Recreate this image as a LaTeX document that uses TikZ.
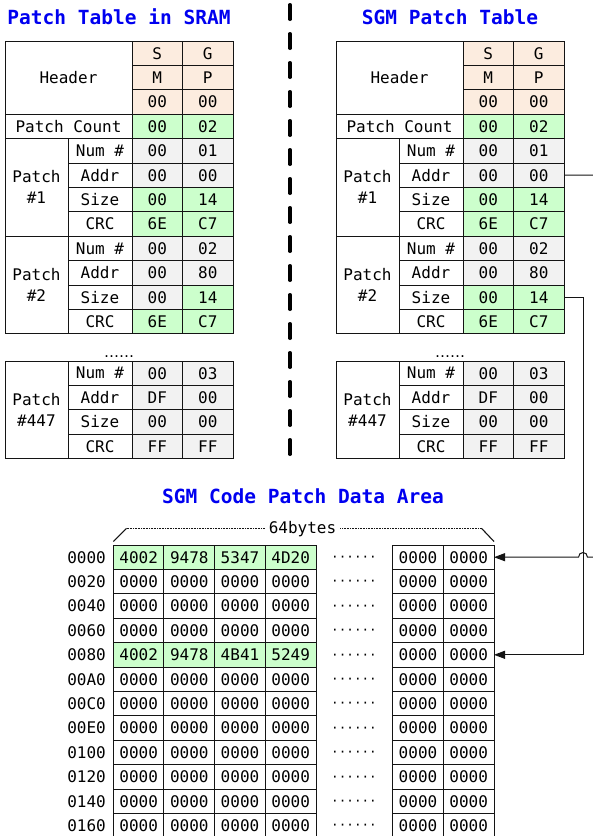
\documentclass[tikz,border=0pt]{standalone}
\usepackage{fontspec}
\setmonofont{DejaVu Sans Mono}
\newfontfamily\dvsans{DejaVu Sans}
\usetikzlibrary{arrows.meta}
\definecolor{peach}{HTML}{FCECDF}
\definecolor{cgreen}{HTML}{CCFFCC}
\definecolor{cgray}{HTML}{F2F2F2}
\definecolor{tblue}{HTML}{0000F0}
\definecolor{bord}{HTML}{141414}
\tikzset{
  cellsty/.style={draw=bord, line width=1pt, inner sep=0pt, outer sep=0pt,
    font=\ttfamily\fontsize{16}{21}\selectfont, align=center, text=black},
  titlesty/.style={font=\ttfamily\bfseries\fontsize{19.5}{22}\selectfont, text=tblue, anchor=base, inner sep=0pt},
  addrsty/.style={font=\ttfamily\fontsize{16}{19}\selectfont, anchor=east, inner sep=0pt},
  dotsty/.style={font=\dvsans\fontsize{15}{17}\selectfont, anchor=base, inner sep=0pt},
  mdotsty/.style={font=\ttfamily\fontsize{12.6}{14}\selectfont, anchor=base, inner sep=0pt},
  labsty/.style={font=\ttfamily\fontsize{16}{19}\selectfont, inner xsep=4pt, inner ysep=0pt},
  conn/.style={draw=bord, line width=1pt},
  arr/.style={conn, -{Triangle[length=11pt,width=8pt]}},
  sepline/.style={line width=3.4pt, line cap=round, dash pattern=on 14.6pt off 14.4pt},
  bracedot/.style={draw=bord, line width=0.9pt, dash pattern=on 0.8pt off 0.8pt},
  bracesolid/.style={draw=bord, line width=1.1pt}
}
\newcommand\cellbox[7]{\node[cellsty,fill=#2,minimum width=#5pt,minimum height=#6pt] (#1) at (#3,#4) {#7};}
\newcommand\prow[7]{%
  \cellbox{#1-l}{white}{100}{#2}{64}{24.4}{#3}%
  \cellbox{#1-a}{#4}{157.25}{#2}{50.5}{24.4}{#5}%
  \cellbox{#1-b}{#6}{207.75}{#2}{50.5}{24.4}{#7}}
\newcommand\patchtable[4]{%
\begin{scope}[xshift=#2pt]
\node[titlesty] (#1-title) at (119,24) {#4};
\cellbox{#1-hd}{white}{68.5}{77.6}{127}{73.2}{Header}
\cellbox{#1-h1a}{peach}{157.25}{53.2}{50.5}{24.4}{S}
\cellbox{#1-h1b}{peach}{207.75}{53.2}{50.5}{24.4}{G}
\cellbox{#1-h2a}{peach}{157.25}{77.6}{50.5}{24.4}{M}
\cellbox{#1-h2b}{peach}{207.75}{77.6}{50.5}{24.4}{P}
\cellbox{#1-h3a}{peach}{157.25}{102}{50.5}{24.4}{00}
\cellbox{#1-h3b}{peach}{207.75}{102}{50.5}{24.4}{00}
\cellbox{#1-pc}{white}{68.5}{126.4}{127}{24.4}{Patch Count}
\cellbox{#1-pca}{cgreen}{157.25}{126.4}{50.5}{24.4}{00}
\cellbox{#1-pcb}{cgreen}{207.75}{126.4}{50.5}{24.4}{02}
\cellbox{#1-p1}{white}{36.5}{187.4}{63}{97.6}{Patch\\\#1}
\prow{#1-p1num}{150.8}{Num \#}{cgray}{00}{cgray}{01}
\prow{#1-p1addr}{175.2}{Addr}{cgray}{00}{cgray}{00}
\prow{#1-p1size}{199.6}{Size}{cgreen}{00}{cgreen}{14}
\prow{#1-p1crc}{224}{CRC}{cgreen}{6E}{cgreen}{C7}
\cellbox{#1-p2}{white}{36.5}{285}{63}{97.6}{Patch\\\#2}
\prow{#1-p2num}{248.4}{Num \#}{cgray}{00}{cgray}{02}
\prow{#1-p2addr}{272.8}{Addr}{cgray}{00}{cgray}{80}
\prow{#1-p2size}{297.2}{Size}{#3}{00}{cgreen}{14}
\prow{#1-p2crc}{321.6}{CRC}{cgreen}{6E}{cgreen}{C7}
\node[dotsty] (#1-dots) at (119,357) {……};
\cellbox{#1-p4}{white}{36.5}{409.8}{63}{97.6}{Patch\\\#447}
\prow{#1-p4num}{373.2}{Num \#}{cgray}{00}{cgray}{03}
\prow{#1-p4addr}{397.6}{Addr}{cgray}{DF}{cgray}{00}
\prow{#1-p4size}{422}{Size}{cgray}{00}{cgray}{00}
\prow{#1-p4crc}{446.4}{CRC}{cgray}{FF}{cgray}{FF}
\end{scope}}
\begin{document}
\begin{tikzpicture}[x=1pt,y=-1pt]
\useasboundingbox (0,0) rectangle (593,836);
\fill[white] (0,0) rectangle (593,836);

% separator
\coordinate (sepT) at (290,4.7);
\coordinate (sepB) at (290,454.3);
\draw[sepline] (sepT) -- (sepB);

\patchtable{L}{0}{cgray}{Patch Table in SRAM}
\patchtable{R}{331}{cgreen}{SGM Patch Table}

% data area
\node[titlesty] (dtitle) at (303,503) {SGM Code Patch Data Area};
\foreach \ad/\va/\vb/\vc/\vd/\f [count=\r from 0] in {
  0000/4002/9478/5347/4D20/cgreen,
  0020/0000/0000/0000/0000/white,
  0040/0000/0000/0000/0000/white,
  0060/0000/0000/0000/0000/white,
  0080/4002/9478/4B41/5249/cgreen,
  00A0/0000/0000/0000/0000/white,
  00C0/0000/0000/0000/0000/white,
  00E0/0000/0000/0000/0000/white,
  0100/0000/0000/0000/0000/white,
  0120/0000/0000/0000/0000/white,
  0140/0000/0000/0000/0000/white,
  0160/0000/0000/0000/0000/white}{
  \pgfmathsetmacro\cy{557.2+24.4*\r}
  \pgfmathsetmacro\dy{\cy+4.2}
  \node[addrsty] (a-\r) at (106,\cy) {\ad};
  \cellbox{d-\r-1}{\f}{138.67}{\cy}{50.67}{24.4}{\va}
  \cellbox{d-\r-2}{\f}{189.33}{\cy}{50.67}{24.4}{\vb}
  \cellbox{d-\r-3}{\f}{240}{\cy}{50.67}{24.4}{\vc}
  \cellbox{d-\r-4}{\f}{290.67}{\cy}{50.67}{24.4}{\vd}
  \node[mdotsty] (m-\r) at (354,\dy) {······};
  \cellbox{d-\r-5}{white}{418}{\cy}{50.67}{24.4}{0000}
  \cellbox{d-\r-6}{white}{468.67}{\cy}{50.67}{24.4}{0000}
}

% 64bytes brace
\node[labsty] (lab64) at (302.5,529) {64bytes};
\coordinate (bL0) at (113.3,541.5);
\coordinate (bL1) at (126.5,528.3);
\coordinate (bR1) at (481.5,528.3);
\coordinate (bR0) at (494,541.5);
\draw[bracesolid] (bL0) -- (bL1);
\draw[bracedot] (bL1) -- (bL1 -| lab64.west);
\draw[bracedot] (bR1 -| lab64.east) -- (bR1);
\draw[bracesolid] (bR1) -- (bR0);

% connectors
\coordinate (c1a) at (597,175.2);
\coordinate (c1b) at (597,557.2);
\coordinate (hopR) at (587.5,557.2);
\coordinate (hopL) at (578.5,557.2);
\coordinate (c2a) at (583,297.2);
\draw[conn] (R-p2size-b.east) -- (c2a);
\draw[arr] (c2a) |- (d-4-6.east);
\draw[arr] (R-p1addr-b.east) -- (c1a) -- (c1b) -- (hopR)
  .. controls (587.5,551) and (578.5,551) .. (hopL) -- (d-0-6.east);
\end{tikzpicture}
\end{document}
